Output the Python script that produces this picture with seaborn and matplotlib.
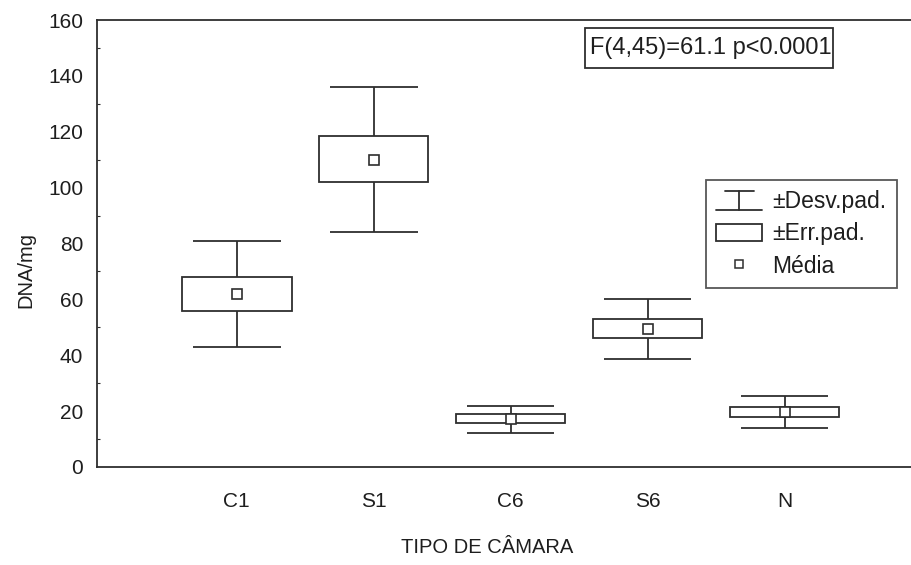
import matplotlib
matplotlib.use("Agg")
import matplotlib.pyplot as plt
import seaborn as sns
import pandas as pd
import numpy as np
from matplotlib.legend_handler import HandlerBase
from matplotlib.lines import Line2D
from matplotlib.patches import Rectangle
from matplotlib.ticker import MultipleLocator

categories = ["C1", "S1", "C6", "S6", "N"]
means = [62.0, 110.0, 17.2, 49.5, 19.8]
sd_low = [43.0, 84.0, 12.0, 38.5, 14.0]
sd_high = [81.0, 136.0, 22.0, 60.0, 25.5]
se_low = [56.0, 102.0, 15.6, 46.0, 18.0]
se_high = [68.0, 118.5, 18.8, 53.0, 21.6]
y_ticks = [0, 20, 40, 60, 80, 100, 120, 140, 160]

sns.set_theme(style="white")
plt.rcParams["font.family"] = ["Liberation Sans", "DejaVu Sans"]

df = pd.DataFrame({"cat": categories, "mean": means})

color = "#2e2e2e"
tcolor = "#1e1e1e"
lw = 1.3
box_w = 0.8
cap_w = 0.64

fig = plt.figure(figsize=(9.12, 5.65), dpi=100)
ax = fig.add_axes([97 / 912, 1 - 467 / 565, 1 - 97 / 912, (467 - 20) / 565])

sns.pointplot(data=df, x="cat", y="mean", order=categories, errorbar=None,
              linestyle="none", marker="s", markersize=7,
              markerfacecolor="white", markeredgecolor=color,
              markeredgewidth=1.2, color=color, ax=ax, zorder=5)

x = np.arange(len(categories))
lo = np.array(se_low)
hi = np.array(se_high)
ax.bar(x, hi - lo, bottom=lo, width=box_w, fill=False, edgecolor=color,
       linewidth=lw, zorder=3)
ax.vlines(x, se_high, sd_high, color=color, lw=lw, zorder=3)
ax.vlines(x, sd_low, se_low, color=color, lw=lw, zorder=3)
ax.hlines(sd_high, x - cap_w / 2, x + cap_w / 2, color=color, lw=lw, zorder=3)
ax.hlines(sd_low, x - cap_w / 2, x + cap_w / 2, color=color, lw=lw, zorder=3)

ax.set_xlim(-1.02, 4.93)
ax.set_ylim(0, 160)
ax.set_xticks(x, categories)
ax.set_yticks(y_ticks)
ax.yaxis.set_minor_locator(MultipleLocator(10))
ax.tick_params(axis="both", which="major", direction="in", length=4, width=1,
               color=color, labelcolor=tcolor, labelsize=15)
ax.tick_params(axis="y", which="minor", direction="in", length=2.5, width=0.8,
               color=color, left=True)
ax.tick_params(axis="x", pad=18)
ax.tick_params(axis="y", pad=10)

for side in ["left", "top", "bottom"]:
    ax.spines[side].set_color(color)
    ax.spines[side].set_linewidth(1.3)
ax.spines["right"].set_visible(False)

ax.set_ylabel("DNA/mg", fontsize=14.5, color=tcolor)
ax.yaxis.set_label_coords(-0.076, 0.44)
ax.set_xlabel("TIPO DE CÂMARA", fontsize=14.5, color=tcolor)
ax.xaxis.set_label_coords(0.479, -0.158)

# annotation box
fig.patches.append(Rectangle((585 / 912, 1 - 68 / 565), (833 - 585) / 912, 40 / 565,
                             transform=fig.transFigure, fill=True, facecolor="white",
                             edgecolor=color, linewidth=1.3, zorder=10))
fig.text(590 / 912, 1 - 48 / 565, "F(4,45)=61.1 p<0.0001", ha="left", va="center",
         fontsize=17, color=tcolor, zorder=11)


class IBeamHandler(HandlerBase):
    def create_artists(self, legend, orig_handle, xdescent, ydescent, width,
                       height, fontsize, trans):
        x0, x1 = -xdescent, -xdescent + width
        xm = (x0 + x1) / 2
        y0 = -ydescent - 1
        y1 = y0 + height + 2
        arts = [Line2D([x0 + 6, x1 - 6], [y1, y1]), Line2D([x0, x1], [y0, y0]),
                Line2D([xm, xm], [y0, y1])]
        for a in arts:
            a.set_color(color)
            a.set_linewidth(lw)
            a.set_transform(trans)
        return arts


class SDHandle:
    pass


h_sd = SDHandle()
h_se = Rectangle((0, 0), 1, 1, fill=False, edgecolor=color, linewidth=lw)
h_mean = Line2D([], [], linestyle="none", marker="s", markersize=6,
                markerfacecolor="white", markeredgecolor=color, markeredgewidth=1.1)

leg = fig.legend([h_sd, h_se, h_mean], ["±Desv.pad.", "±Err.pad.", "Média"],
                 handler_map={SDHandle: IBeamHandler()},
                 loc="upper left", bbox_to_anchor=(706 / 912, 1 - 180 / 565),
                 fontsize=16.5, frameon=True, fancybox=False, edgecolor=color,
                 handlelength=2.0, handleheight=0.75, labelspacing=0.4,
                 borderpad=0.45, handletextpad=0.45, borderaxespad=0)
leg.get_frame().set_linewidth(1.3)
for t in leg.get_texts():
    t.set_color(tcolor)

fig.savefig("out.png", dpi=100)
